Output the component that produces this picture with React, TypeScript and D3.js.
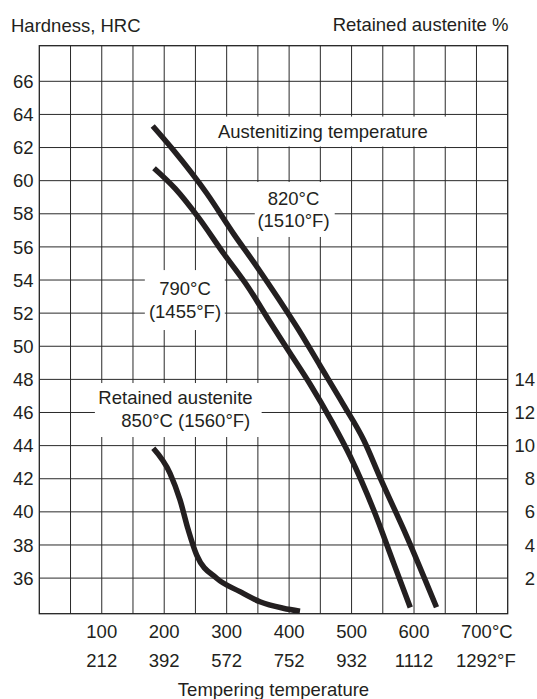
import React, { useEffect, useRef } from 'react';
import * as d3 from 'd3';

const W = 537;
const H = 699;
const FONT = "'Liberation Sans', Arial, sans-serif";
const INK = '#231f20';

// axis ticks
const tempTicksC = [100, 200, 300, 400, 500, 600, 700];
const tempTicksF = ['212', '392', '572', '752', '932', '1112', '1292'];
const hardnessTicks = [36, 38, 40, 42, 44, 46, 48, 50, 52, 54, 56, 58, 60, 62, 64, 66];
const austeniteTicks = [2, 4, 6, 8, 10, 12, 14];

// hardness after tempering, austenitized at 820°C
const temp820 = [181.6, 214.6, 268, 310.6, 348.1, 385.4, 415.4, 449.9, 487.4, 519.4, 546, 588.8, 636];
const hrc820 = [63.3, 61.85, 59.24, 56.82, 54.82, 52.73, 50.98, 48.81, 46.45, 44.34, 42.04, 38.48, 34.24];

// hardness after tempering, austenitized at 790°C
const temp790 = [183.7, 217.3, 254.1, 295.7, 334.2, 369.4, 401.4, 433.4, 468.7, 497.5, 535.4, 567.5, 594];
const hrc790 = [60.75, 59.53, 57.81, 55.57, 53.58, 51.46, 49.59, 47.72, 45.43, 43.37, 40.11, 36.89, 34.22];

// retained austenite %, austenitized at 850°C (right axis)
const tempRA = [182.5, 209.3, 225.3, 238.6, 252, 284, 321.3, 353.3, 390.6, 417.4];
const pctRA = [9.84, 8.33, 6.72, 4.9, 3.39, 1.99, 1.18, 0.57, 0.18, 0.0];

const App = () => {
  const ref = useRef<SVGSVGElement>(null);

  useEffect(() => {
    const svg = d3.select(ref.current);
    svg.selectAll('*').remove();

    const left = 39.3, right = 507.7, top = 45.7, bottom = 613.7;

    const x = d3.scaleLinear().domain([0, 750]).range([left, right]);
    const y = d3.scaleLinear().domain([33.85, 68.15]).range([bottom, top]);
    const yRA = d3.scaleLinear().domain([-0.15, 34.15]).range([bottom, top]);

    const g = svg.append('g').style('font-family', FONT).style('font-size', '18.5px');

    // grid
    g.selectAll('.vgrid')
      .data(d3.range(50, 750, 50))
      .enter()
      .append('line')
      .attr('x1', d => x(d))
      .attr('x2', d => x(d))
      .attr('y1', top)
      .attr('y2', bottom)
      .attr('stroke', '#2a2a2a')
      .attr('stroke-width', 1);

    g.selectAll('.hgrid')
      .data(hardnessTicks)
      .enter()
      .append('line')
      .attr('x1', left)
      .attr('x2', right)
      .attr('y1', d => y(d))
      .attr('y2', d => y(d))
      .attr('stroke', '#2a2a2a')
      .attr('stroke-width', 1);

    // labels inside the plot, on white patches that break the grid
    const notes = [
      { box: [273, 670, 63.87, 62.06], lines: [{ t: 'Austenitizing temperature', c: 454, h: 62.6 }] },
      {
        box: [345, 473, 59.92, 56.6],
        lines: [
          { t: '820°C', c: 407, h: 58.53 },
          { t: '(1510°F)', c: 407, h: 57.22 },
        ],
      },
      {
        box: [169, 297, 54.6, 50.98],
        lines: [
          { t: '790°C', c: 233.3, h: 53.1 },
          { t: '(1455°F)', c: 233.3, h: 51.71 },
        ],
      },
      {
        box: [89, 356, 47.78, 44.52],
        lines: [
          { t: 'Retained austenite', c: 218.1, h: 46.51 },
          { t: '850°C (1560°F)', c: 234.6, h: 45.15 },
        ],
      },
    ];

    notes.forEach(n => {
      g.append('rect')
        .attr('x', x(n.box[0]))
        .attr('y', y(n.box[2]))
        .attr('width', x(n.box[1]) - x(n.box[0]))
        .attr('height', y(n.box[3]) - y(n.box[2]))
        .attr('fill', '#fff');
      n.lines.forEach(l => {
        g.append('text')
          .attr('x', x(l.c))
          .attr('y', y(l.h))
          .attr('text-anchor', 'middle')
          .attr('fill', INK)
          .text(l.t);
      });
    });

    // curves
    const line = d3.line<[number, number]>().curve(d3.curveMonotoneX);

    const curves = [
      temp820.map((t, i) => [x(t), y(hrc820[i])] as [number, number]),
      temp790.map((t, i) => [x(t), y(hrc790[i])] as [number, number]),
      tempRA.map((t, i) => [x(t), yRA(pctRA[i])] as [number, number]),
    ];

    g.selectAll('.curve')
      .data(curves)
      .enter()
      .append('path')
      .attr('d', d => line(d))
      .attr('fill', 'none')
      .attr('stroke', INK)
      .attr('stroke-width', 5.5);

    // frame
    g.append('rect')
      .attr('x', left)
      .attr('y', top)
      .attr('width', right - left)
      .attr('height', bottom - top)
      .attr('fill', 'none')
      .attr('stroke', '#222')
      .attr('stroke-width', 1.3);

    // left axis labels
    g.selectAll('.ylab')
      .data(hardnessTicks)
      .enter()
      .append('text')
      .attr('x', 33.5)
      .attr('y', d => y(d) + 6.6)
      .attr('text-anchor', 'end')
      .attr('fill', INK)
      .text(d => d);

    // right axis labels
    g.selectAll('.ralab')
      .data(austeniteTicks)
      .enter()
      .append('text')
      .attr('x', 535)
      .attr('y', d => yRA(d) + 6.6)
      .attr('text-anchor', 'end')
      .attr('fill', INK)
      .text(d => d);

    // bottom labels, °C row and °F row
    const rows = [
      { labels: tempTicksC.map(String), base: 638.3, unit: '°C' },
      { labels: tempTicksF, base: 666.7, unit: '°F' },
    ];
    rows.forEach(r => {
      r.labels.forEach((lab, i) => {
        const cx = x(tempTicksC[i]);
        const tx = g
          .append('text')
          .attr('x', cx)
          .attr('y', r.base)
          .attr('text-anchor', 'middle')
          .attr('fill', INK)
          .text(lab);
        if (i === r.labels.length - 1) {
          const w = (tx.node() as SVGTextElement).getComputedTextLength();
          g.append('text')
            .attr('x', cx + w / 2)
            .attr('y', r.base)
            .attr('fill', INK)
            .text(r.unit);
        }
      });
    });

    // axis titles
    g.append('text').attr('x', 11).attr('y', 31.5).attr('fill', INK).text('Hardness, HRC');
    g.append('text')
      .attr('x', 508.5)
      .attr('y', 31)
      .attr('text-anchor', 'end')
      .attr('fill', INK)
      .text('Retained austenite %');
    g.append('text')
      .attr('x', (left + right) / 2)
      .attr('y', 696)
      .attr('text-anchor', 'middle')
      .attr('fill', INK)
      .text('Tempering temperature');
  }, []);

  return (
    <svg
      ref={ref}
      width={W}
      height={H}
      style={{ position: 'absolute', left: 0, top: 0, background: '#fff' }}
    />
  );
};

export default App;
